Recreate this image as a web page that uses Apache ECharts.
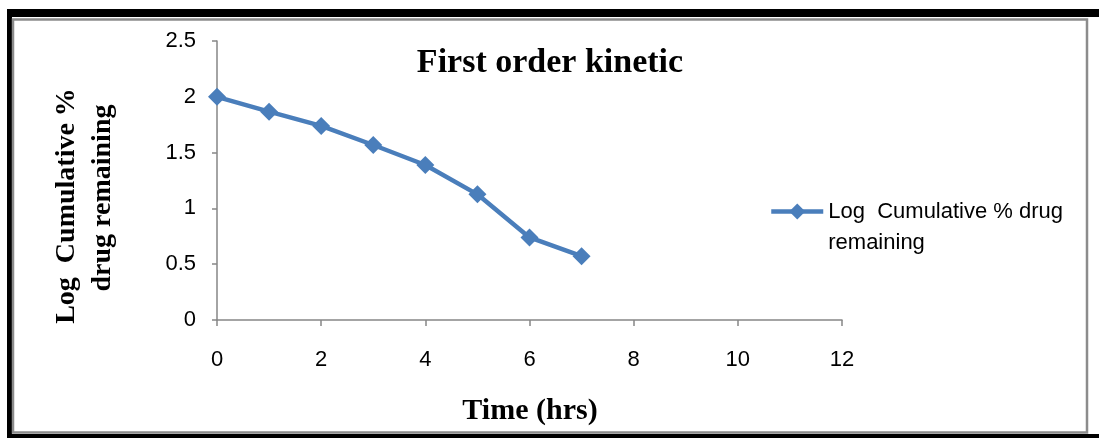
<!DOCTYPE html>
<html>
<head>
<meta charset="utf-8">
<script src="https://cdn.jsdelivr.net/npm/echarts@6/dist/echarts.min.js"></script>
<style>
html,body{margin:0;padding:0;background:#fff;}
#c{width:1099px;height:438px;}
</style>
</head>
<body>
<div id="c"></div>
<script>
var timeHrs = [0, 1, 2, 3, 4, 5, 6, 7];
var logRemaining = [2.0, 1.867, 1.739, 1.568, 1.389, 1.126, 0.740, 0.572];
var seriesName = 'Log  Cumulative % drug remaining';
var legendLines = ['Log  Cumulative % drug', 'remaining'];
var titleText = 'First order kinetic';
var xName = 'Time (hrs)';
var yNameLine1 = 'Log  Cumulative %';
var yNameLine2 = 'drug remaining';

var data = timeHrs.map(function (t, i) { return [t, logRemaining[i]]; });
var chart = echarts.init(document.getElementById('c'), null, {renderer: 'canvas'});
var axisGray = '#868686';
var serif = '"Liberation Serif", "Times New Roman", serif';
var sans = '"Liberation Sans", Arial, sans-serif';

chart.setOption({
  backgroundColor: '#ffffff',
  animation: false,
  title: {
    text: titleText,
    left: 545, top: 41, textAlign: 'center',
    textStyle: {fontFamily: serif, fontWeight: 'bold', fontSize: 34, color: '#000'}
  },
  grid: {left: 217, right: 257, top: 41, bottom: 118},
  legend: {
    left: 769, top: 165, padding: 0,
    itemWidth: 52, itemHeight: 20, itemGap: 5,
    formatter: function () { return '\u00a0\n' + legendLines.join('\n'); },
    textStyle: {fontFamily: sans, fontSize: 22, color: '#000', lineHeight: 31},
    lineStyle: {width: 4.5},
    data: [seriesName]
  },
  xAxis: {
    type: 'value', min: 0, max: 12, interval: 2,
    axisLine: {show: true, lineStyle: {color: axisGray, width: 1.5}},
    axisTick: {show: true, length: 6, lineStyle: {color: axisGray, width: 1.5}},
    axisLabel: {fontFamily: sans, fontSize: 22, color: '#000', margin: 29},
    splitLine: {show: false}
  },
  yAxis: {
    type: 'value', min: 0, max: 2.5, interval: 0.5,
    axisLine: {show: true, lineStyle: {color: axisGray, width: 1.5}},
    axisTick: {show: true, length: 5, lineStyle: {color: axisGray, width: 1.5}},
    axisLabel: {fontFamily: sans, fontSize: 22, color: '#000', margin: 21},
    splitLine: {show: false}
  },
  graphic: [
    {type: 'rect', z: -10, shape: {x: 7, y: 9, width: 1092, height: 8}, style: {fill: '#000'}},
    {type: 'rect', z: -10, shape: {x: 7, y: 9, width: 5, height: 429}, style: {fill: '#000'}},
    {type: 'rect', z: -10, shape: {x: 7, y: 434, width: 1092, height: 4}, style: {fill: '#000'}},
    {type: 'rect', z: -9, shape: {x: 13, y: 19.5, width: 1074, height: 413}, style: {fill: 'none', stroke: '#8c8c8c', lineWidth: 2.5}},
    {type: 'text', z: 10, x: 530, y: 411, style: {text: xName, font: 'bold 30px ' + serif, fill: '#000', textAlign: 'center', textVerticalAlign: 'middle'}},
    {type: 'text', z: 10, x: 67, y: 206, rotation: Math.PI / 2, style: {text: yNameLine1, font: 'bold 28px ' + serif, fill: '#000', textAlign: 'center', textVerticalAlign: 'middle'}},
    {type: 'text', z: 10, x: 103, y: 198, rotation: Math.PI / 2, style: {text: yNameLine2, font: 'bold 28px ' + serif, fill: '#000', textAlign: 'center', textVerticalAlign: 'middle'}}
  ],
  series: [{
    name: seriesName,
    type: 'line',
    data: data,
    symbol: 'diamond',
    symbolSize: 18,
    itemStyle: {color: '#4a7ebb'},
    lineStyle: {color: '#4a7ebb', width: 4.5}
  }]
});
</script>
</body>
</html>
